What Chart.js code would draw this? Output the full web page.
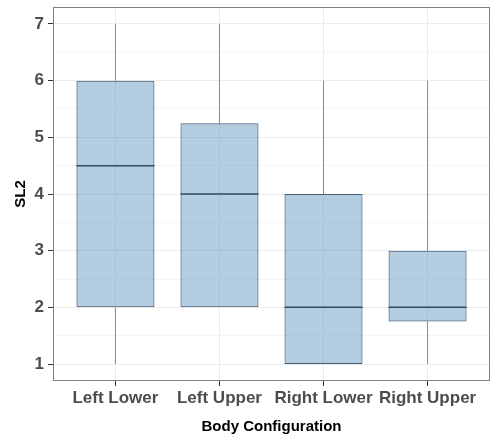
<!DOCTYPE html>
<html>
<head>
<meta charset="utf-8">
<script src="https://cdn.jsdelivr.net/npm/chart.js@4"></script>
<style>
    body { margin: 0; background: #fff; }
    #wrap { width: 491px; height: 441px; }
</style>
</head>
<body>
<div id="wrap"><canvas id="boxChart" width="491" height="441"></canvas></div>
<script>
const categories = ['Left Lower', 'Left Upper', 'Right Lower', 'Right Upper'];
const whiskerLow = [1, 2, 1, 1];
const q1 = [2, 2, 1, 1.75];
const medians = [4.5, 4, 2, 2];
const q3 = [6, 5.25, 4, 3];
const whiskerHigh = [7, 7, 6, 6];
const yTickValues = [1, 2, 3, 4, 5, 6, 7];
const yMinorValues = [1.5, 2.5, 3.5, 4.5, 5.5, 6.5];

const BOX_WIDTH = 0.75;
const FONT = "'Liberation Sans', Arial, sans-serif";

document.addEventListener("DOMContentLoaded", function () {
    initBoxChart();
});

function initBoxChart() {
    const boxes = categories.map(function (c, i) {
        return { x: i, y: [q1[i], q3[i]] };
    });

    const whiskers = [];
    const medianLines = [];
    categories.forEach(function (c, i) {
        whiskers.push({ x: i, y: q3[i] }, { x: i, y: whiskerHigh[i] }, { x: i, y: null });
        whiskers.push({ x: i, y: whiskerLow[i] }, { x: i, y: q1[i] }, { x: i, y: null });
        medianLines.push({ x: i - BOX_WIDTH / 2, y: medians[i] }, { x: i + BOX_WIDTH / 2, y: medians[i] }, { x: i, y: null });
    });

    const panelBorder = {
        id: 'panelBorder',
        afterDatasetsDraw: function (chart) {
            const a = chart.chartArea;
            const ctx = chart.ctx;
            ctx.save();
            ctx.strokeStyle = '#808080';
            ctx.lineWidth = 1;
            ctx.strokeRect(Math.round(a.left) + 0.5, Math.round(a.top) + 0.5,
                Math.round(a.right - a.left) - 1, Math.round(a.bottom - a.top) - 1);
            ctx.restore();
        }
    };

    const ctx = document.getElementById('boxChart').getContext('2d');
    new Chart(ctx, {
        type: 'bar',
        data: {
            datasets: [{
                type: 'line',
                data: medianLines,
                borderColor: '#2e4a66',
                borderWidth: 1.5,
                pointRadius: 0,
                spanGaps: false,
                order: 0
            }, {
                type: 'bar',
                data: boxes,
                backgroundColor: 'rgba(70, 130, 180, 0.4)',
                borderColor: '#41607c',
                borderWidth: 1,
                borderSkipped: false,
                barPercentage: BOX_WIDTH,
                categoryPercentage: 1,
                order: 1
            }, {
                type: 'line',
                data: whiskers,
                borderColor: '#8a8a8a',
                borderWidth: 1,
                pointRadius: 0,
                spanGaps: false,
                order: 2
            }]
        },
        options: {
            responsive: false,
            animation: false,
            layout: { padding: { top: 7, right: 1, left: 0, bottom: 0 } },
            plugins: {
                legend: { display: false },
                tooltip: { enabled: false }
            },
            scales: {
                x: {
                    type: 'linear',
                    min: -0.6,
                    max: 3.6,
                    offset: false,
                    afterBuildTicks: function (scale) {
                        scale.ticks = categories.map(function (c, i) { return { value: i }; });
                    },
                    afterFit: function (scale) {
                        scale.height = 60;
                        scale.paddingLeft = 0;
                        scale.paddingRight = 0;
                    },
                    border: { display: false },
                    grid: { offset: false, color: '#ebebeb', tickColor: '#333', tickLength: 5 },
                    ticks: {
                        autoSkip: false,
                        maxRotation: 0,
                        padding: 2,
                        color: '#4d4d4d',
                        font: { family: FONT, size: 17, weight: 'bold' },
                        callback: function (value) { return categories[value]; }
                    },
                    title: {
                        display: true,
                        text: 'Body Configuration',
                        color: '#000',
                        font: { family: FONT, size: 15, weight: 'bold' },
                        padding: { top: 6, bottom: 5 }
                    }
                },
                y: {
                    min: 0.7,
                    max: 7.3,
                    afterBuildTicks: function (scale) {
                        scale.ticks = yTickValues.concat(yMinorValues).sort(function (a, b) { return a - b; })
                            .map(function (v) { return { value: v }; });
                    },
                    afterFit: function (scale) {
                        scale.width = 53;
                        scale.paddingTop = 0;
                        scale.paddingBottom = 0;
                    },
                    border: { display: false },
                    grid: {
                        color: function (c) { return Number.isInteger(c.tick.value) ? '#ebebeb' : '#f5f5f5'; },
                        tickColor: function (c) { return Number.isInteger(c.tick.value) ? '#333' : 'rgba(0,0,0,0)'; },
                        tickLength: 5
                    },
                    ticks: {
                        autoSkip: false,
                        padding: 4,
                        color: '#4d4d4d',
                        font: { family: FONT, size: 17, weight: 'bold' },
                        callback: function (value) { return Number.isInteger(value) ? value : ''; }
                    },
                    title: {
                        display: true,
                        text: 'SL2',
                        color: '#000',
                        font: { family: FONT, size: 15, weight: 'bold' },
                        padding: { top: 12, bottom: 0 }
                    }
                }
            }
        },
        plugins: [panelBorder]
    });
}
</script>
</body>
</html>
